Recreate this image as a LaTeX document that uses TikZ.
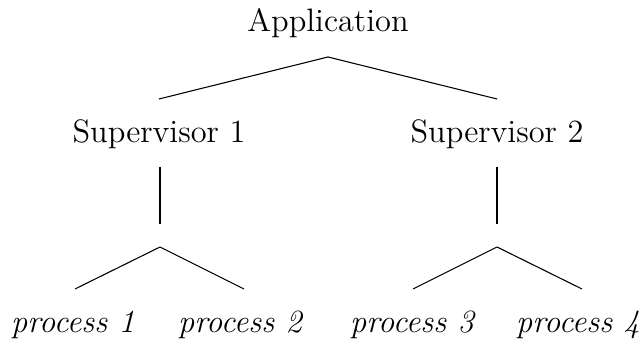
\documentclass[tikz,border=0pt]{standalone}
\begin{document}
\begin{tikzpicture}[x=0.3704pt,y=-0.3704pt,
  label/.style={anchor=base,inner sep=0pt,font=\large},
  leaf/.style={label,font=\large\itshape},
  edge/.style={line width=0.4pt}]
\useasboundingbox (0,0) rectangle (641,343);
% tree labels
\node[label] (app)  at (328,32)  {Application};
\node[label] (sup1) at (159,143) {Supervisor 1};
\node[label] (sup2) at (497,143) {Supervisor 2};
\node[leaf]  (p1)   at (73,333)  {process 1};
\node[leaf]  (p2)   at (240,333) {process 2};
\node[leaf]  (p3)   at (412,333) {process 3};
\node[leaf]  (p4)   at (578,333) {process 4};
% attachment points of the edges
\coordinate (appS)  at (328,57);
\coordinate (sup1N) at (159,99);
\coordinate (sup2N) at (497,99);
\coordinate (sup1S) at (160,167);
\coordinate (sup2S) at (497,167);
\coordinate (e1N)   at (160,224);
\coordinate (e2N)   at (497,224);
\coordinate (e1S)   at (160,247);
\coordinate (e2S)   at (497,247);
\coordinate (p1N)   at (75,289);
\coordinate (p2N)   at (244,289);
\coordinate (p3N)   at (413,289);
\coordinate (p4N)   at (582,289);
% edges
\draw[edge] (appS) -- (sup1N);
\draw[edge] (appS) -- (sup2N);
\draw[edge] (sup1S) -- (e1N);
\draw[edge] (sup2S) -- (e2N);
\draw[edge] (e1S) -- (p1N);
\draw[edge] (e1S) -- (p2N);
\draw[edge] (e2S) -- (p3N);
\draw[edge] (e2S) -- (p4N);
\end{tikzpicture}
\end{document}
